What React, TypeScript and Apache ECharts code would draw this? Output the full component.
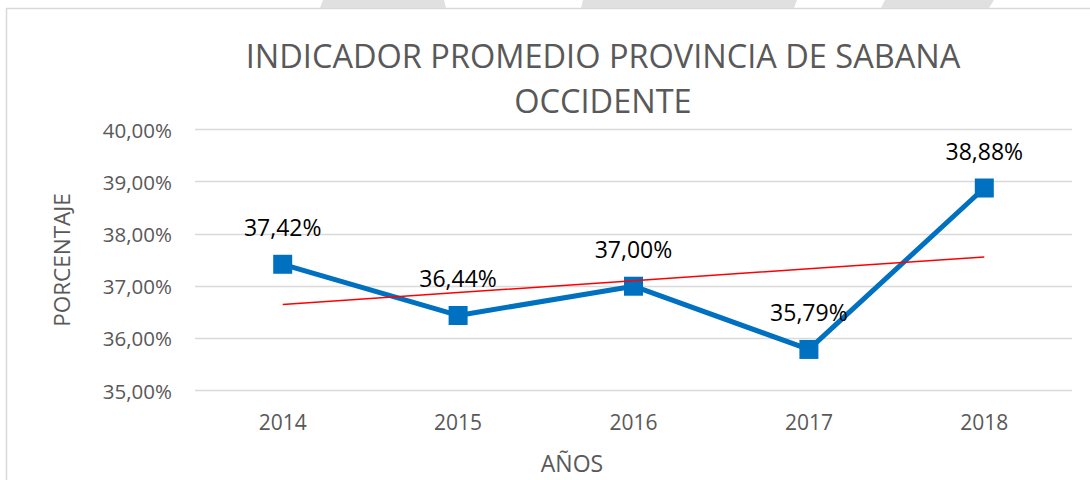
import React, { useEffect, useRef } from "react";
import * as echarts from "echarts";

const years = ["2014", "2015", "2016", "2017", "2018"];
const indicator = [37.42, 36.44, 37.0, 35.79, 38.88];
const yMin = 35;
const yMax = 40;
const yStep = 1;
const titleText = "INDICADOR PROMEDIO PROVINCIA DE SABANA\nOCCIDENTE";
const yName = "PORCENTAJE";
const xName = "AÑOS";

// Linear trend line (least squares), as Excel's trendline
function trend(values: number[]): number[] {
  const n = values.length;
  const xs = values.map((_, i) => i);
  const mx = xs.reduce((a, b) => a + b, 0) / n;
  const my = values.reduce((a, b) => a + b, 0) / n;
  let num = 0;
  let den = 0;
  xs.forEach((x, i) => {
    num += (x - mx) * (values[i] - my);
    den += (x - mx) * (x - mx);
  });
  const slope = num / den;
  return xs.map((x) => my + slope * (x - mx));
}

const fmt = (v: number) => v.toFixed(2).replace(".", ",") + "%";
const FONT = "'Open Sans', sans-serif";

export default function App() {
  const ref = useRef<HTMLDivElement>(null);
  useEffect(() => {
    if (!ref.current) return;
    const chart = echarts.init(ref.current, null, { renderer: "svg" });
    chart.setOption({
      animation: false,
      backgroundColor: "#ffffff",
      textStyle: { fontFamily: FONT },
      title: {
        text: titleText,
        left: 598,
        top: 28,
        textAlign: "center",
        textStyle: {
          fontFamily: FONT,
          fontSize: 32.5,
          fontWeight: "normal",
          color: "#595959",
          lineHeight: 45,
        },
      },
      graphic: [
        {
          type: "rect",
          shape: { x: 6.5, y: 8.5, width: 1200, height: 600 },
          style: { fill: "none", stroke: "#d9d9d9", lineWidth: 1.5 },
          silent: true,
        },
        {
          type: "polygon",
          shape: { points: [[320, 8], [446, 8], [444, 0], [323, 0]] },
          style: { fill: "#e0e0e0" },
          silent: true,
        },
        {
          type: "polygon",
          shape: { points: [[581, 8], [794, 8], [797, 0], [583, 0]] },
          style: { fill: "#e0e0e0" },
          silent: true,
        },
        {
          type: "polygon",
          shape: { points: [[881, 8], [989, 8], [994, 0], [885, 0]] },
          style: { fill: "#e0e0e0" },
          silent: true,
        },
        {
          type: "text",
          x: 572,
          y: 463,
          style: {
            text: xName,
            fontFamily: FONT,
            fontSize: 23,
            fill: "#595959",
            align: "center",
            verticalAlign: "middle",
          },
          silent: true,
        },
        {
          type: "text",
          x: 61,
          y: 260,
          rotation: Math.PI / 2,
          style: {
            text: yName,
            fontFamily: FONT,
            fontSize: 22.5,
            fill: "#595959",
            align: "center",
            verticalAlign: "middle",
          },
          silent: true,
        },
      ],
      grid: { left: 195, right: 18, top: 129.5, height: 261.2, containLabel: false },
      xAxis: {
        type: "category",
        data: years,
        boundaryGap: true,
        axisLine: { show: false },
        axisTick: { show: false },
        axisLabel: { margin: 21, fontFamily: FONT, fontSize: 21, color: "#595959" },
      },
      yAxis: {
        type: "value",
        min: yMin,
        max: yMax,
        interval: yStep,
        axisLine: { show: false },
        axisTick: { show: false },
        axisLabel: {
          margin: 23,
          fontFamily: FONT,
          fontSize: 20.5,
          color: "#595959",
          formatter: (v: number) => fmt(v),
        },
        splitLine: { show: true, lineStyle: { color: "#d9d9d9", width: 1.3 } },
      },
      series: [
        {
          name: "Indicador",
          type: "line",
          data: indicator,
          symbol: "rect",
          symbolSize: 19,
          lineStyle: { color: "#0070C0", width: 5 },
          itemStyle: { color: "#0070C0" },
          label: {
            show: true,
            position: "top",
            distance: 16,
            fontFamily: FONT,
            fontSize: 23,
            color: "#000000",
            formatter: (p: any) => fmt(p.value),
          },
          z: 3,
        },
        {
          name: "Tendencia",
          type: "line",
          data: trend(indicator),
          symbol: "none",
          lineStyle: { color: "#ff0000", width: 1.5 },
          z: 4,
        },
      ],
    });
    return () => chart.dispose();
  }, []);
  return (
    <div
      ref={ref}
      style={{ position: "fixed", left: 0, top: 0, width: 1090, height: 480 }}
    />
  );
}
